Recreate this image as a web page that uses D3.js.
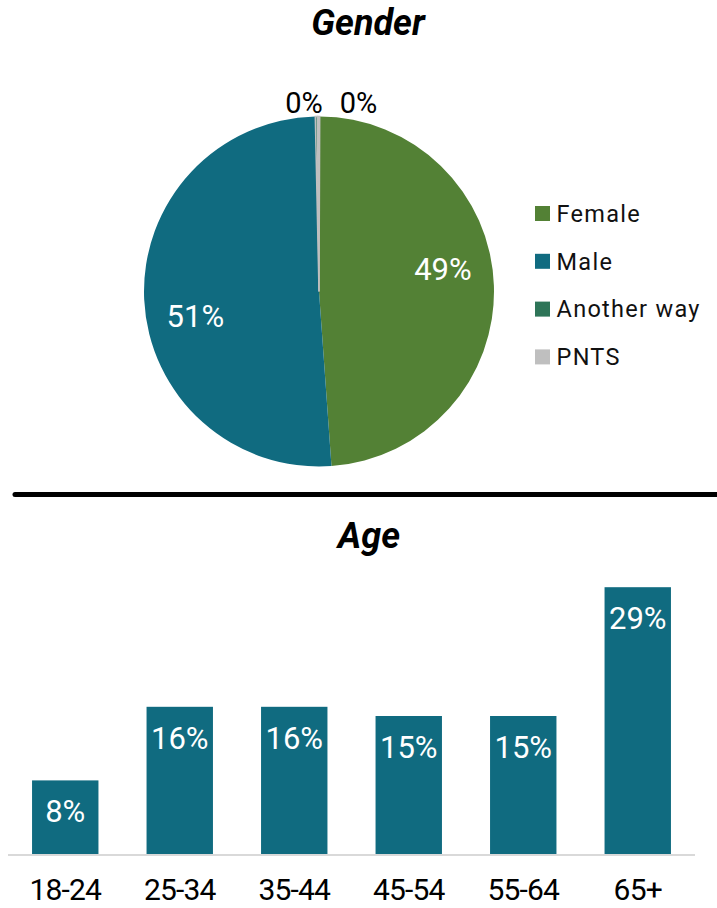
<!DOCTYPE html>
<html>
<head>
<meta charset="utf-8">
<script src="https://cdn.jsdelivr.net/npm/d3@7"></script>
<style>
  body { margin: 0; background: #fff; }
  svg text { font-family: Roboto, "Noto Sans", sans-serif; }
</style>
</head>
<body>
<svg id="chart" width="717" height="908"></svg>
<script>
// gender pie
const genderLabels = ["Female", "Male", "Another way", "PNTS"];
const genderValues = [48.8, 50.8, 0.2, 0.2];
const genderText = ["49%", "51%", "0%", "0%"];
const genderColors = ["#538135", "#106B80", "#2E7558", "#BFBFBF"];

// age bars
const ageGroups = ["18-24", "25-34", "35-44", "45-54", "55-64", "65+"];
const ageValues = [8, 16, 16, 15, 15, 29];
const ageColor = "#106B80";

const svg = d3.select("#chart");

// titles
svg.append("text")
    .attr("x", 368).attr("y", 35)
    .attr("text-anchor", "middle")
    .style("font-size", "36px").style("font-weight", "bold").style("font-style", "italic")
    .text("Gender");

svg.append("text")
    .attr("x", 369).attr("y", 548)
    .attr("text-anchor", "middle")
    .style("font-size", "36px").style("font-weight", "bold").style("font-style", "italic")
    .text("Age");

// separator
svg.append("line")
    .attr("x1", 15).attr("x2", 720)
    .attr("y1", 494.5).attr("y2", 494.5)
    .attr("stroke", "#000").attr("stroke-width", 5)
    .attr("stroke-linecap", "round");

// ---- pie ----
const cx = 319, cy = 291.5, r = 175;
const pie = d3.pie().sort(null).value((d) => d)
    .startAngle(0.004).endAngle(Math.PI * 2 + 0.004);
const arcs = pie(genderValues);
const arc = d3.arc().innerRadius(0).outerRadius(r);
// data labels sit a little anticlockwise of the slice centre
const labelShift = (-8.5 * Math.PI) / 180;
const labelR = 126;

const pieG = svg.append("g").attr("transform", `translate(${cx},${cy})`);
pieG.selectAll("path")
    .data(arcs)
    .enter()
    .append("path")
    .attr("d", arc)
    .attr("fill", (d, i) => genderColors[i])
    .attr("stroke", (d, i) => (i >= 2 ? "#BFBFBF" : "none"))
    .attr("stroke-width", 1.5);

pieG.selectAll("text.inner")
    .data(arcs.slice(0, 2))
    .enter()
    .append("text")
    .attr("class", "inner")
    .attr("x", (d) => labelR * Math.sin((d.startAngle + d.endAngle) / 2 + labelShift))
    .attr("y", (d) => -labelR * Math.cos((d.startAngle + d.endAngle) / 2 + labelShift))
    .attr("dy", "0.35em")
    .attr("text-anchor", "middle")
    .attr("fill", "#fff")
    .style("font-size", "31px")
    .text((d, i) => genderText[i]);

// tiny slices labelled above the pie
const outerOffsets = [-15, 39.5];
pieG.selectAll("text.outer")
    .data(arcs.slice(2))
    .enter()
    .append("text")
    .attr("class", "outer")
    .attr("x", (d, i) => outerOffsets[i])
    .attr("y", -r - 3.5)
    .attr("text-anchor", "middle")
    .attr("fill", "#000")
    .style("font-size", "29px")
    .text((d, i) => genderText[i + 2]);

// legend
const legend = svg.append("g").attr("transform", "translate(535,213.5)");
const legendRow = legend.selectAll("g")
    .data(genderLabels)
    .enter()
    .append("g")
    .attr("transform", (d, i) => `translate(0,${i * 47.8})`);
legendRow.append("rect")
    .attr("x", 0).attr("y", -7.5)
    .attr("width", 15).attr("height", 15)
    .attr("fill", (d, i) => genderColors[i]);
legendRow.append("text")
    .attr("x", 21.5).attr("y", 0)
    .attr("dy", "0.35em")
    .style("font-size", "23.5px")
    .style("letter-spacing", "1.3px")
    .attr("fill", "#111")
    .text((d) => d);

// ---- bars ----
const x = d3.scaleBand()
    .domain(ageGroups)
    .range([8, 695])
    .paddingInner(0.42)
    .paddingOuter(0.21);
const y = d3.scaleLinear().domain([0, 30]).range([854, 578]);

svg.append("g")
    .selectAll("rect")
    .data(ageValues)
    .enter()
    .append("rect")
    .attr("x", (d, i) => x(ageGroups[i]))
    .attr("y", (d) => y(d))
    .attr("width", x.bandwidth())
    .attr("height", (d) => y(0) - y(d))
    .attr("fill", ageColor);

svg.append("g")
    .selectAll("text")
    .data(ageValues)
    .enter()
    .append("text")
    .attr("x", (d, i) => x(ageGroups[i]) + x.bandwidth() / 2)
    .attr("y", (d) => y(d) + 42)
    .attr("text-anchor", "middle")
    .attr("fill", "#fff")
    .style("font-size", "31px")
    .text((d) => `${d}%`);

const xAxis = svg.append("g")
    .attr("transform", `translate(0,${y(0) + 1})`)
    .call(d3.axisBottom(x).tickSize(0).tickPadding(24));
xAxis.select(".domain")
    .attr("stroke", "#D9D9D9").attr("stroke-width", 2)
    .attr("d", "M8,0H695");
xAxis.selectAll("text")
    .style("font-family", "Roboto, sans-serif")
    .style("font-size", "30px")
    .style("letter-spacing", "-0.8px")
    .attr("fill", "#000");
</script>
</body>
</html>
